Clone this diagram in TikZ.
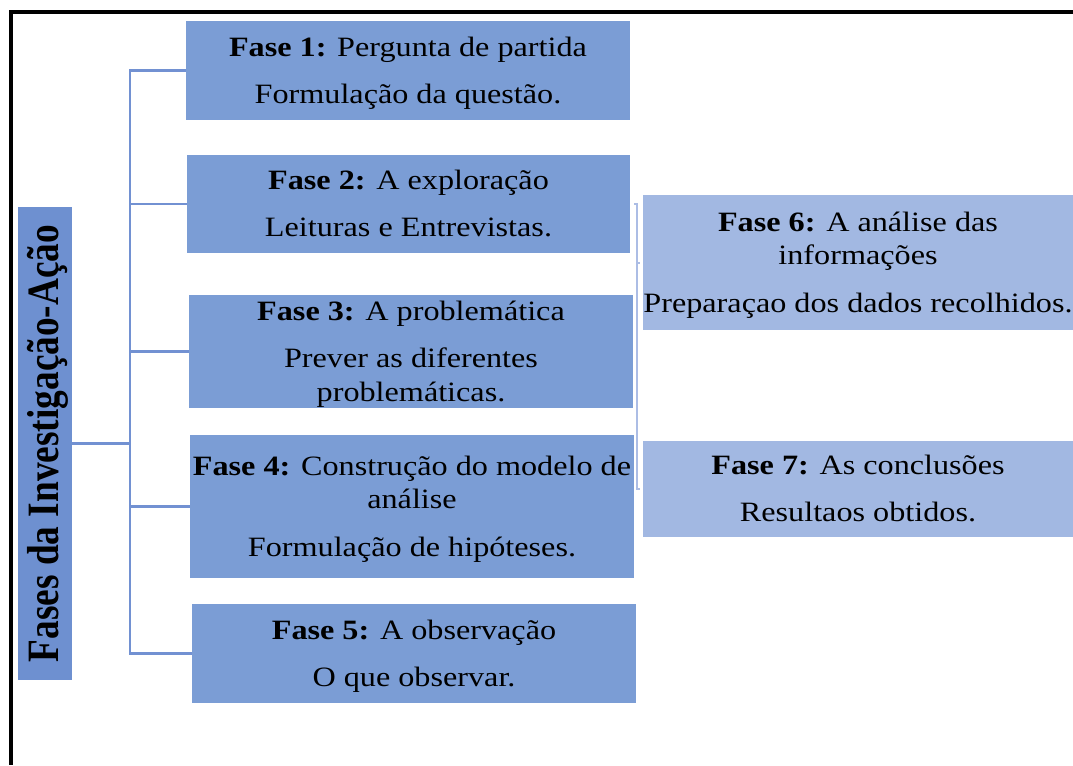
\documentclass[tikz,border=0pt]{standalone}
\usepackage{fontspec}
\setmainfont{Liberation Serif}
\usepackage{graphicx}
\usetikzlibrary{calc}
\definecolor{leftfill}{RGB}{123,157,213}
\definecolor{rootfill}{RGB}{110,144,208}
\definecolor{rightfill}{RGB}{162,184,226}
\definecolor{connblue}{RGB}{114,145,210}
\definecolor{brkblue}{RGB}{172,189,229}
\newcommand\boxtext[1]{\raisebox{-2pt}[\height][\depth]{\scalebox{1.15}[1]{\fontsize{21pt}{24.9pt}\selectfont\begin{tabular}{@{}c@{}}#1\end{tabular}}}}
\begin{document}
\begin{tikzpicture}[x=0.75pt,y=-0.75pt,
  lbox/.style={fill=leftfill, draw=none, inner sep=0pt, align=center},
  rbox/.style={fill=rightfill, draw=none, inner sep=0pt, align=center},
  rootbox/.style={fill=rootfill, draw=none, inner sep=0pt},
  conn/.style={draw=connblue, line width=2.2pt},
  brk/.style={draw=brkblue, line width=1.5pt},
  frame/.style={draw=black, line width=3pt}]
\useasboundingbox (0,0) rectangle (1073,765);
% frame
\draw[frame] (1073,11.5) -- (10.5,11.5) -- (10.5,765);
% root
\node[rootbox, minimum width=40.5pt, minimum height=354.75pt] (root) at (45,443.5)
  {\makebox[0pt]{\hspace{5pt}\rotatebox{90}{\scalebox{1}[1.2]{\fontsize{28pt}{30pt}\selectfont\bfseries Fases da Investigação-Ação}}}};
% left boxes
\node[lbox, minimum width=333pt, minimum height=74.25pt] (f1) at (408,70.5)
  {\boxtext{\textbf{Fase 1:} Pergunta de partida\\[10.5pt] Formulação da questão.}};
\node[lbox, minimum width=332.25pt, minimum height=73.5pt] (f2) at (408.5,204)
  {\boxtext{\textbf{Fase 2:} A exploração\\[10.5pt] Leituras e Entrevistas.}};
\node[lbox, minimum width=333pt, minimum height=83.25pt] (f3) at (411,351.5)
  {\boxtext{\textbf{Fase 3:} A problemática\\[10.5pt] Prever as diferentes\\ problemáticas.}};
\node[lbox, minimum width=333pt, minimum height=107.25pt] (f4) at (412,506.5)
  {\boxtext{\textbf{Fase 4:} Construção do modelo de\\ análise\\[10.5pt] Formulação de hipóteses.}};
\node[lbox, minimum width=333pt, minimum height=74.25pt] (f5) at (414,653.5)
  {\boxtext{\textbf{Fase 5:} A observação\\[10.5pt] O que observar.}};
% right boxes
\node[rbox, minimum width=322.5pt, minimum height=101.25pt] (f6) at (858,262.5)
  {\boxtext{\textbf{Fase 6:} A análise das\\ informações\\[10.5pt] Preparaçao dos dados recolhidos.}};
\node[rbox, minimum width=322.5pt, minimum height=72pt] (f7) at (858,489)
  {\boxtext{\textbf{Fase 7:} As conclusões\\[10.5pt] Resultaos obtidos.}};
% tree connectors
\coordinate (trunk) at (130,443.5);
\draw[conn] (root.east) -- (trunk);
\draw[conn] (f1.west) -| (trunk) |- (f5.west);
\draw[conn] (f2.west) -- (f2.west -| trunk);
\draw[conn] (f3.west) -- (f3.west -| trunk);
\draw[conn] (f4.west) -- (f4.west -| trunk);
% bracket
\coordinate (brx) at (637,0);
\draw[brk] ($(f2.east)+(4,0)$) -- (f2.east -| brx) -- (f7.west -| brx) -- ($(f7.west)+(-3,0)$);
\draw[brk] (f6.west -| brx) -- ($(f6.west)+(-3,0)$);
\end{tikzpicture}
\end{document}
